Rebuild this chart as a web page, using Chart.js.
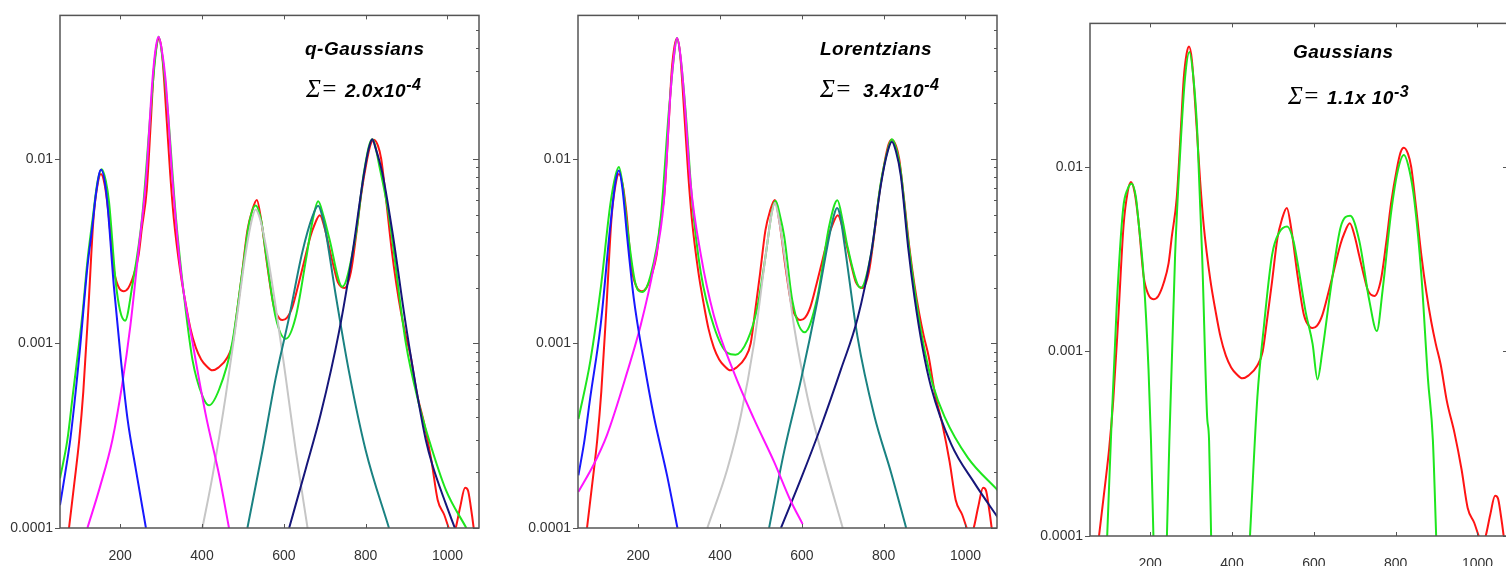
<!DOCTYPE html>
<html>
<head>
<meta charset="utf-8">
<script src="https://cdn.jsdelivr.net/npm/chart.js@4.4.0/dist/chart.umd.min.js"></script>
<style>
  html, body { margin: 0; padding: 0; background: #fff; }
  body { width: 1506px; height: 566px; overflow: hidden; position: relative; }
  canvas { position: absolute; }
  .txt { position: absolute; white-space: nowrap; color: #000; line-height: 1; }
  .bi { font-family: "Liberation Sans", Arial, sans-serif; font-style: italic; font-weight: bold; font-size: 19px; letter-spacing: 0.5px; }
  .bi span { font-size: 16px; position: relative; top: -7px; }
  .sym { font-family: "Liberation Serif", "Times New Roman", serif; font-style: italic; font-size: 25px; }
</style>
</head>
<body>
<canvas id="p1" width="500" height="566" style="left:0;top:0"></canvas>
<canvas id="p2" width="500" height="566" style="left:518px;top:0"></canvas>
<canvas id="p3" width="500" height="566" style="left:1030px;top:8px"></canvas>

<script>
// axis setup shared by the three panels
const X_MIN = 53, X_MAX = 1077;
const Y_MIN = 0.0001, Y_MAX = 0.06;
const xTicks = [200, 400, 600, 800, 1000];
const yTicks = [0.0001, 0.001, 0.01];

// panel captions
const panelTitles = ['q-Gaussians', 'Lorentzians', 'Gaussians'];
const sigmaValues = ['2.0x10', '3.4x10', '1.1x 10'];
const sigmaExponents = ['-4', '-4', '-3'];

// measured spectrum (red, same in every panel)
const measX = [75, 88, 100, 110, 122, 135, 145, 153, 162, 171, 184, 195, 208, 220, 233, 245, 253, 265, 275, 282, 289, 295, 302, 314, 322, 331, 347, 360, 372, 385, 398, 412, 425, 440, 462, 475, 486, 498, 511, 522, 534, 545, 560, 576, 590, 597, 608, 621, 636, 650, 665, 675, 688, 700, 711, 722, 732, 748, 764, 777, 789, 803, 812, 820, 830, 838, 850, 863, 875, 887, 898, 910, 925, 944, 961, 976, 992, 1003, 1011, 1020, 1031, 1043, 1050, 1057, 1064, 1069];
const measY = [1.0e-4, 1.75e-4, 3.0e-4, 5.5e-4, 1.5e-3, 4.8e-3, 7.3e-3, 8.3e-3, 7.3e-3, 5.2e-3, 2.56e-3, 2.05e-3, 1.92e-3, 2.0e-3, 2.35e-3, 3.0e-3, 4.2e-3, 6.8e-3, 1.6e-2, 3.0e-2, 4.1e-2, 4.5e-2, 3.8e-2, 1.6e-2, 8.5e-3, 4.8e-3, 2.45e-3, 1.65e-3, 1.2e-3, 9.5e-4, 8.2e-4, 7.5e-4, 7.15e-4, 7.4e-4, 8.4e-4, 1.0e-3, 1.5e-3, 2.4e-3, 4.1e-3, 5.2e-3, 6.0e-3, 4.6e-3, 2.6e-3, 1.57e-3, 1.36e-3, 1.34e-3, 1.38e-3, 1.58e-3, 2.1e-3, 2.8e-3, 3.8e-3, 4.4e-3, 4.95e-3, 4.2e-3, 3.3e-3, 2.6e-3, 2.15e-3, 2.0e-3, 2.45e-3, 3.9e-3, 6.4e-3, 9.8e-3, 1.2e-2, 1.27e-2, 1.18e-2, 1.0e-2, 6.0e-3, 3.3e-3, 2.1e-3, 1.45e-3, 1.1e-3, 8.5e-4, 5.4e-4, 3.6e-4, 2.3e-4, 1.42e-4, 1.18e-4, 1.0e-4, 0.9e-4, 1.0e-4, 1.3e-4, 1.65e-4, 1.6e-4, 1.3e-4, 1.0e-4, 0.8e-4];

// q-Gaussian fit and its five components
const qgFitX = [53, 71, 84, 108, 120, 132, 145, 155, 165, 173, 189, 200, 212, 230, 254, 275, 285, 294, 303, 316, 336, 356, 377, 401, 417, 442, 474, 499, 515, 531, 545, 556, 580, 605, 629, 654, 670, 684, 697, 711, 743, 776, 796, 816, 836, 857, 898, 930, 955, 996, 1046];
const qgFitY = [1.86e-4, 3.0e-4, 5.2e-4, 1.45e-3, 2.8e-3, 4.6e-3, 7.6e-3, 8.8e-3, 7.6e-3, 5.8e-3, 2.17e-3, 1.5e-3, 1.33e-3, 2.08e-3, 4.9e-3, 1.88e-2, 3.4e-2, 4.6e-2, 3.6e-2, 1.88e-2, 4.9e-3, 1.82e-3, 8.1e-4, 5.2e-4, 4.62e-4, 5.65e-4, 1.01e-3, 2.49e-3, 4.46e-3, 5.6e-3, 4.6e-3, 3.1e-3, 1.39e-3, 1.06e-3, 1.39e-3, 2.84e-3, 4.6e-3, 5.9e-3, 4.9e-3, 3.72e-3, 2.03e-3, 3.9e-3, 8.5e-3, 1.28e-2, 8.6e-3, 4.88e-3, 1.01e-3, 4.72e-4, 3.0e-4, 1.61e-4, 1.0e-4];
const qgP1X = [53, 66, 78, 100, 120, 132, 141, 153, 166, 185, 202, 218, 238, 263];
const qgP1Y = [1.33e-4, 2.0e-4, 3.0e-4, 8.5e-4, 2.6e-3, 4.3e-3, 6.5e-3, 8.74e-3, 6.6e-3, 2.0e-3, 8.1e-4, 3.9e-4, 2.1e-4, 1.0e-4];
const qgP2X = [120, 150, 181, 205, 225, 245, 263, 279, 287, 294, 301, 311, 328, 348, 377, 409, 442, 466];
const qgP2Y = [1.0e-4, 1.65e-4, 3.0e-4, 6.0e-4, 1.25e-3, 3.2e-3, 7.6e-3, 2.69e-2, 4.0e-2, 4.6e-2, 4.0e-2, 2.69e-2, 7.64e-3, 2.49e-3, 1.01e-3, 4.13e-4, 1.93e-4, 1.0e-4];
const qgP3X = [401, 426, 458, 483, 507, 522, 531, 541, 556, 580, 605, 629, 658];
const qgP3Y = [1.0e-4, 1.93e-4, 5.2e-4, 1.27e-3, 3.11e-3, 4.7e-3, 5.33e-3, 4.8e-3, 3.4e-3, 1.59e-3, 6.47e-4, 2.64e-4, 1.0e-4];
const qgP4X = [511, 548, 580, 613, 645, 670, 684, 695, 702, 727, 759, 800, 857];
const qgP4Y = [1.0e-4, 2.64e-4, 6.47e-4, 1.39e-3, 3.11e-3, 4.88e-3, 5.58e-3, 4.8e-3, 4.07e-3, 1.82e-3, 7.08e-4, 2.64e-4, 1.0e-4];
const qgP5X = [613, 654, 690, 735, 768, 796, 808, 816, 824, 841, 865, 898, 930, 947, 963, 996, 1018];
const qgP5Y = [1.0e-4, 2.11e-4, 4.13e-4, 1.16e-3, 3.11e-3, 8.35e-3, 1.15e-2, 1.28e-2, 1.15e-2, 8.35e-3, 4.07e-3, 1.27e-3, 4.72e-4, 3.0e-4, 2.2e-4, 1.35e-4, 1.0e-4];

// Lorentzian fit and its five components
const lzFitX = [54, 83, 108, 132, 145, 153, 163, 173, 193, 210, 230, 255, 275, 287, 295, 304, 316, 332, 353, 385, 418, 438, 467, 491, 512, 527, 536, 546, 557, 577, 607, 638, 667, 687, 700, 712, 744, 769, 793, 810, 820, 830, 842, 860, 875, 895, 920, 949, 1006, 1079];
const lzFitY = [3.9e-4, 8.0e-4, 1.95e-3, 5.67e-3, 8.2e-3, 9.06e-3, 7.0e-3, 4.35e-3, 2.13e-3, 1.9e-3, 2.32e-3, 4.74e-3, 1.81e-2, 3.5e-2, 4.52e-2, 3.5e-2, 1.81e-2, 5.93e-3, 2.43e-3, 1.24e-3, 8.9e-4, 8.7e-4, 1.04e-3, 1.56e-3, 3.04e-3, 5.2e-3, 5.93e-3, 5.0e-3, 3.8e-3, 1.7e-3, 1.15e-3, 1.78e-3, 4.35e-3, 5.98e-3, 4.6e-3, 3.32e-3, 2.0e-3, 3.04e-3, 7.42e-3, 1.12e-2, 1.28e-2, 1.15e-2, 8.48e-3, 3.6e-3, 2.0e-3, 1.05e-3, 6.0e-4, 4.0e-4, 2.4e-4, 1.6e-4];
const lzP1X = [54, 69, 83, 108, 132, 145, 153, 162, 173, 189, 214, 238, 271, 296];
const lzP1Y = [1.93e-4, 3.0e-4, 5.1e-4, 1.24e-3, 4.35e-3, 7.6e-3, 8.67e-3, 6.8e-3, 3.8e-3, 1.78e-3, 7.96e-4, 4.07e-4, 1.91e-4, 1.0e-4];
const lzP2X = [54, 91, 124, 173, 206, 238, 263, 279, 288, 295, 303, 312, 328, 353, 385, 434, 483, 532, 573, 602];
const lzP2Y = [1.57e-4, 2.2e-4, 3.2e-4, 6.97e-4, 1.25e-3, 2.6e-3, 5.93e-3, 2.26e-2, 3.7e-2, 4.52e-2, 3.7e-2, 2.26e-2, 7.42e-3, 3.04e-3, 1.42e-3, 6.97e-4, 3.9e-4, 2.29e-4, 1.4e-4, 1.05e-4];
const lzP3X = [369, 418, 451, 483, 512, 526, 534, 542, 557, 581, 614, 647, 700];
const lzP3Y = [1.0e-4, 2.09e-4, 4.07e-4, 9.95e-4, 3.04e-3, 5.0e-3, 5.8e-3, 5.0e-3, 3.04e-3, 1.24e-3, 5.1e-4, 2.61e-4, 1.0e-4];
const lzP4X = [520, 557, 598, 638, 667, 679, 686, 693, 704, 736, 777, 818, 855];
const lzP4Y = [1.0e-4, 2.61e-4, 6.37e-4, 1.7e-3, 3.8e-3, 5.0e-3, 5.42e-3, 5.0e-3, 3.48e-3, 1.09e-3, 4.07e-4, 2.0e-4, 1.0e-4];
const lzP5X = [549, 598, 647, 696, 736, 769, 794, 810, 820, 830, 842, 860, 875, 895, 916, 965, 1022, 1079];
const lzP5Y = [1.0e-4, 1.85e-4, 3.56e-4, 7.28e-4, 1.36e-3, 3.04e-3, 7.42e-3, 1.1e-2, 1.24e-2, 1.1e-2, 8.11e-3, 3.3e-3, 1.8e-3, 9.5e-4, 5.8e-4, 2.85e-4, 1.75e-4, 1.14e-4];

// Gaussian fit (drops out of the axis range between peaks)
const gsFitX = [95, 104, 118, 134, 145, 155, 165, 171, 184, 196, 202, 208, 225, 241, 247, 261, 274, 285, 296, 306, 315, 327, 339, 344, 349, 400, 444, 462, 478, 498, 515, 535, 550, 560, 580, 597, 609, 621, 642, 666, 689, 711, 736, 754, 768, 789, 805, 820, 834, 846, 863, 879, 891, 899];
const gsFitY = [1.0e-4, 3.3e-4, 1.71e-3, 5.94e-3, 7.6e-3, 8.12e-3, 6.9e-3, 5.2e-3, 2.56e-3, 8.0e-4, 3.3e-4, 1.0e-4, null, 1.0e-4, 3.3e-4, 3.34e-3, 1.27e-2, 3.0e-2, 4.2e-2, 3.0e-2, 1.58e-2, 3.34e-3, 4.53e-4, 3.3e-4, 1.0e-4, null, 1.0e-4, 5.65e-4, 1.37e-3, 3.34e-3, 4.4e-3, 4.76e-3, 4.0e-3, 3.05e-3, 1.64e-3, 1.1e-3, 7.06e-4, 1.01e-3, 2.24e-3, 4.76e-3, 5.44e-3, 3.99e-3, 1.87e-3, 1.29e-3, 2.14e-3, 5.69e-3, 9.5e-3, 1.16e-2, 9.5e-3, 6.5e-3, 2.56e-3, 7.06e-4, 3.3e-4, 1.0e-4];

const colors = {
    data: '#ff1414',
    fit: '#1ee61e',
    p1: '#1818ff',
    p2: '#ff14ff',
    p3: '#c6c6c6',
    p4: '#1a8282',
    p5: '#16167a'
};

function pts(xs, ys) {
    return xs.map((x, i) => ({ x: x, y: ys[i] }));
}

function line(xs, ys, color) {
    return {
        data: pts(xs, ys),
        borderColor: color,
        borderWidth: 2,
        pointRadius: 0,
        fill: false,
        cubicInterpolationMode: 'monotone'
    };
}

// box around the plot with inward ticks, log minor ticks on the right
const framePlugin = {
    id: 'frame',
    afterDraw(chart) {
        const ctx = chart.ctx;
        const a = chart.chartArea;
        const xs = chart.scales.x, ys = chart.scales.y;
        ctx.save();
        ctx.strokeStyle = '#555';
        ctx.lineWidth = 1.5;
        ctx.strokeRect(a.left, a.top, a.right - a.left, a.bottom - a.top);
        ctx.lineWidth = 1;
        ctx.beginPath();
        xTicks.forEach(v => {
            const px = Math.round(xs.getPixelForValue(v)) + 0.5;
            ctx.moveTo(px, a.top); ctx.lineTo(px, a.top + 4);
            ctx.moveTo(px, a.bottom); ctx.lineTo(px, a.bottom - 4);
        });
        yTicks.forEach(v => {
            const py = Math.round(ys.getPixelForValue(v)) + 0.5;
            ctx.moveTo(a.left - 5, py); ctx.lineTo(a.left, py);
            ctx.moveTo(a.right, py); ctx.lineTo(a.right - 6, py);
        });
        for (let d = Y_MIN; d < Y_MAX; d *= 10) {
            for (let k = 2; k <= 9; k++) {
                const v = d * k;
                if (v > Y_MAX) break;
                const py = Math.round(ys.getPixelForValue(v)) + 0.5;
                ctx.moveTo(a.right, py); ctx.lineTo(a.right - 3, py);
            }
        }
        ctx.stroke();
        ctx.restore();
    }
};

const tickFont = { family: '"Liberation Sans", Arial, sans-serif', size: 14 };

function buildPanel(id, datasets) {
    return new Chart(document.getElementById(id), {
        type: 'line',
        data: { datasets: datasets },
        options: {
            responsive: false,
            animation: false,
            devicePixelRatio: 1,
            layout: { padding: { top: 12, right: 21, left: 0, bottom: 0 } },
            plugins: { legend: { display: false }, tooltip: { enabled: false } },
            scales: {
                x: {
                    type: 'linear',
                    min: X_MIN,
                    max: X_MAX,
                    afterBuildTicks: s => { s.ticks = xTicks.map(v => ({ value: v })); },
                    afterFit: s => { s.height = 38; },
                    grid: { display: false, drawTicks: false },
                    border: { display: false },
                    ticks: {
                        padding: 20,
                        color: '#333',
                        font: tickFont,
                        maxRotation: 0,
                        autoSkip: false,
                        callback: v => String(v)
                    }
                },
                y: {
                    type: 'logarithmic',
                    min: Y_MIN,
                    max: Y_MAX,
                    afterBuildTicks: s => { s.ticks = yTicks.map(v => ({ value: v })); },
                    afterFit: s => { s.width = 60; },
                    grid: { display: false, drawTicks: false },
                    border: { display: false },
                    ticks: {
                        padding: 7,
                        color: '#333',
                        font: tickFont,
                        autoSkip: false,
                        callback: v => String(v)
                    }
                }
            }
        },
        plugins: [framePlugin]
    });
}

buildPanel('p1', [
    line(qgP1X, qgP1Y, colors.p1),
    line(qgP2X, qgP2Y, colors.p2),
    line(qgP5X, qgP5Y, colors.p5),
    line(qgP4X, qgP4Y, colors.p4),
    line(qgP3X, qgP3Y, colors.p3),
    line(qgFitX, qgFitY, colors.fit),
    line(measX, measY, colors.data)
]);

buildPanel('p2', [
    line(lzP1X, lzP1Y, colors.p1),
    line(lzP2X, lzP2Y, colors.p2),
    line(lzP5X, lzP5Y, colors.p5),
    line(lzP4X, lzP4Y, colors.p4),
    line(lzP3X, lzP3Y, colors.p3),
    line(lzFitX, lzFitY, colors.fit),
    line(measX, measY, colors.data)
]);

buildPanel('p3', [
    line(gsFitX, gsFitY, colors.fit),
    line(measX, measY, colors.data)
]);

// captions: title, then "Σ= value" with a raised exponent
const captionPos = [
    { title: [305, 39], sym: [306, 76], val: [345, 81] },
    { title: [820, 39], sym: [820, 76], val: [863, 81] },
    { title: [1293, 42], sym: [1288, 83], val: [1327, 88] }
];

captionPos.forEach((p, i) => {
    const add = (cls, text, pos) => {
        const el = document.createElement('div');
        el.className = 'txt ' + cls;
        el.textContent = text;
        el.style.left = pos[0] + 'px';
        el.style.top = pos[1] + 'px';
        document.body.appendChild(el);
        return el;
    };
    add('bi', panelTitles[i], p.title);
    add('sym', 'Σ=', p.sym);
    const val = add('bi', sigmaValues[i], p.val);
    const exp = document.createElement('span');
    exp.textContent = sigmaExponents[i];
    val.appendChild(exp);
});
</script>
</body>
</html>
